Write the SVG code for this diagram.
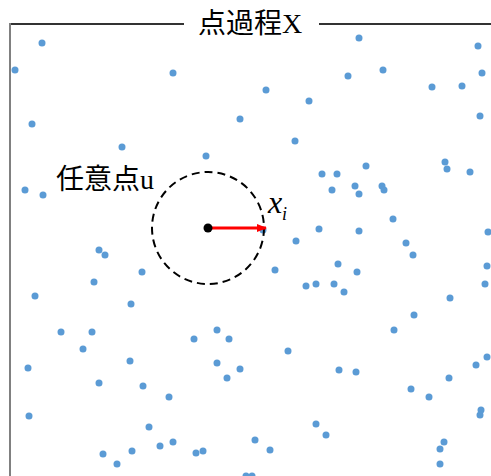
<svg xmlns="http://www.w3.org/2000/svg" width="491" height="476" viewBox="0 0 491 476">
<defs>
<style>
.cjk{font-family:"Noto Sans CJK JP","Noto Sans CJK SC",sans-serif;font-size:28px;fill:#000}
.ser{font-family:"Liberation Serif",serif}
.p circle{fill:#5B9BD5}
</style>
<marker id="ah" markerWidth="10" markerHeight="8" refX="9" refY="4" orient="auto" markerUnits="userSpaceOnUse">
<path d="M0,0 L10,4 L0,8 Z" fill="#FF0000"/>
</marker>
</defs>
<rect width="491" height="476" fill="#fff"/>
<g id="frame" fill="none">
<path d="M10,24 H184 M319,24 H491" stroke="#333" stroke-width="2"/>
<path d="M10,23 V476" stroke="#808080" stroke-width="2"/>
</g>
<g id="title">
<text class="cjk" x="198" y="33">点過程<tspan class="ser">X</tspan></text>
</g>
<g id="points" class="p">
<circle cx="42" cy="43" r="3.5"/><circle cx="15" cy="70" r="3.5"/><circle cx="32" cy="124" r="3.5"/><circle cx="122" cy="147" r="3.5"/>
<circle cx="173" cy="73" r="3.5"/><circle cx="266" cy="90" r="3.5"/><circle cx="309" cy="101" r="3.5"/><circle cx="240" cy="119" r="3.5"/><circle cx="295" cy="141" r="3.5"/><circle cx="206" cy="156" r="3.5"/>
<circle cx="359" cy="38" r="3.5"/><circle cx="478" cy="46" r="3.5"/><circle cx="348" cy="76" r="3.5"/><circle cx="383" cy="70" r="3.5"/><circle cx="482" cy="73" r="3.5"/><circle cx="432" cy="87" r="3.5"/><circle cx="462" cy="86" r="3.5"/><circle cx="480" cy="116" r="3.5"/>
<circle cx="25" cy="190" r="3.5"/><circle cx="43" cy="195" r="3.5"/><circle cx="99" cy="250" r="3.5"/><circle cx="105" cy="255" r="3.5"/><circle cx="142" cy="272" r="3.5"/><circle cx="94" cy="282" r="3.5"/><circle cx="35" cy="296" r="3.5"/><circle cx="131" cy="304" r="3.5"/>
<circle cx="322" cy="174" r="3.5"/><circle cx="319" cy="229" r="3.5"/><circle cx="296" cy="241" r="3.5"/><circle cx="275" cy="270" r="3.5"/><circle cx="306" cy="286" r="3.5"/><circle cx="316" cy="284" r="3.5"/><circle cx="263" cy="230" r="3.5"/>
<circle cx="337" cy="174" r="3.5"/><circle cx="366" cy="166" r="3.5"/><circle cx="332" cy="190" r="3.5"/><circle cx="355" cy="186" r="3.5"/><circle cx="359" cy="194" r="3.5"/><circle cx="382" cy="186" r="3.5"/><circle cx="384" cy="190" r="3.5"/><circle cx="445" cy="162" r="3.5"/><circle cx="447" cy="169" r="3.5"/><circle cx="470" cy="172" r="3.5"/><circle cx="393" cy="219" r="3.5"/><circle cx="359" cy="231" r="3.5"/><circle cx="488" cy="232" r="3.5"/><circle cx="406" cy="243" r="3.5"/><circle cx="413" cy="255" r="3.5"/><circle cx="338" cy="264" r="3.5"/><circle cx="357" cy="272" r="3.5"/><circle cx="334" cy="284" r="3.5"/><circle cx="344" cy="292" r="3.5"/><circle cx="487" cy="266" r="3.5"/><circle cx="485" cy="284" r="3.5"/><circle cx="450" cy="298" r="3.5"/><circle cx="414" cy="315" r="3.5"/>
<circle cx="61" cy="332" r="3.5"/><circle cx="92" cy="332" r="3.5"/><circle cx="83" cy="349" r="3.5"/><circle cx="130" cy="361" r="3.5"/><circle cx="28" cy="368" r="3.5"/><circle cx="99" cy="383" r="3.5"/><circle cx="143" cy="386" r="3.5"/><circle cx="29" cy="416" r="3.5"/><circle cx="149" cy="427" r="3.5"/><circle cx="160" cy="446" r="3.5"/><circle cx="103" cy="454" r="3.5"/><circle cx="132" cy="451" r="3.5"/><circle cx="117" cy="464" r="3.5"/>
<circle cx="217" cy="330" r="3.5"/><circle cx="194" cy="339" r="3.5"/><circle cx="229" cy="339" r="3.5"/><circle cx="288" cy="351" r="3.5"/><circle cx="217" cy="363" r="3.5"/><circle cx="240" cy="369" r="3.5"/><circle cx="227" cy="378" r="3.5"/><circle cx="169" cy="397" r="3.5"/><circle cx="316" cy="424" r="3.5"/><circle cx="326" cy="435" r="3.5"/><circle cx="173" cy="442" r="3.5"/><circle cx="255" cy="440" r="3.5"/><circle cx="270" cy="450" r="3.5"/><circle cx="196" cy="453" r="3.5"/><circle cx="203" cy="451" r="3.5"/><circle cx="246" cy="476" r="3.5"/><circle cx="252" cy="476" r="3.5"/>
<circle cx="394" cy="330" r="3.5"/><circle cx="339" cy="370" r="3.5"/><circle cx="356" cy="372" r="3.5"/><circle cx="487" cy="357" r="3.5"/><circle cx="476" cy="365" r="3.5"/><circle cx="449" cy="378" r="3.5"/><circle cx="411" cy="389" r="3.5"/><circle cx="429" cy="397" r="3.5"/><circle cx="481" cy="410" r="3.5"/><circle cx="480" cy="415" r="3.5"/><circle cx="444" cy="442" r="3.5"/><circle cx="440" cy="449" r="3.5"/><circle cx="440" cy="464" r="3.5"/>
</g>
<g id="neighborhood">
<circle cx="208" cy="228" r="56" fill="none" stroke="#000" stroke-width="2" stroke-dasharray="8 5"/>
</g>
<g id="label-u">
<text class="cjk" x="56" y="189">任意点<tspan class="ser">u</tspan></text>
</g>
<g id="connectors">
<line x1="208" y1="228" x2="266" y2="228" stroke="#FF0000" stroke-width="3" marker-end="url(#ah)"/>
</g>
<g id="center-u">
<circle cx="208" cy="228" r="4.5" fill="#000"/>
</g>
<g id="label-xi">
<text class="ser" font-style="italic" x="268" y="213" font-size="32">x</text>
<text class="ser" font-style="italic" x="282" y="220" font-size="18">i</text>
</g>
</svg>
